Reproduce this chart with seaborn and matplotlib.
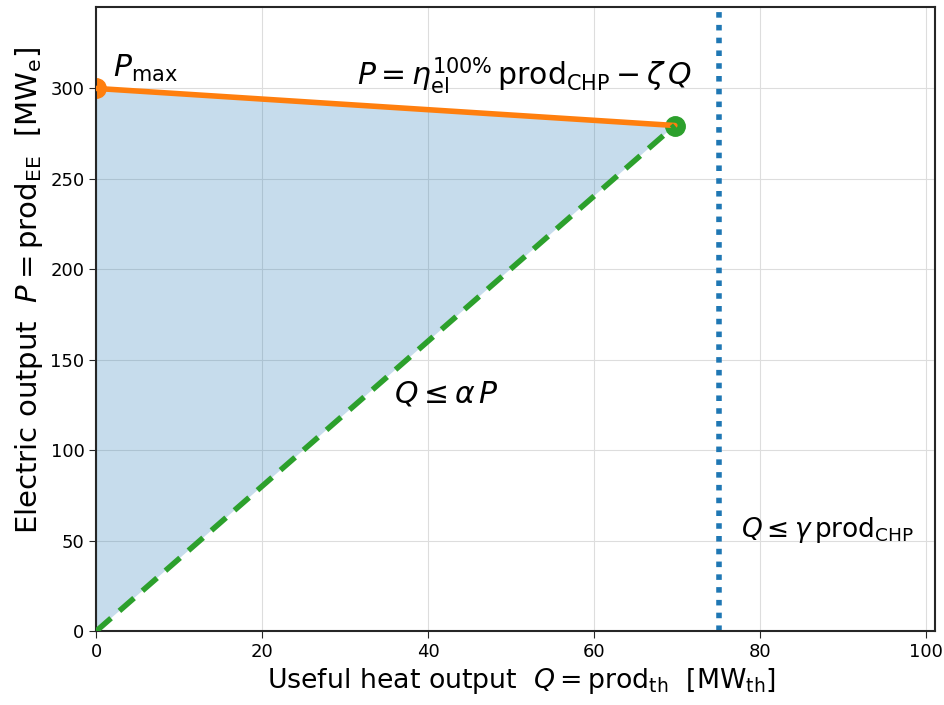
import matplotlib
matplotlib.use("Agg")
import matplotlib.pyplot as plt
import seaborn as sns
import numpy as np
import pandas as pd

# data
P_max = 300.0
gamma_Q = 75.0
Q_corner = 69.7
P_corner = 279.5

upper_Q = [0.0, Q_corner]
upper_P = [P_max, P_corner]
lower_Q = [0.0, Q_corner]
lower_P = [0.0, P_corner]
left_Q = [0.0, 0.0]
left_P = [0.0, P_max]
xticks = [0, 20, 40, 60, 80, 100]
yticks = [0, 50, 100, 150, 200, 250, 300]

sns.set_style("ticks", {"axes.grid": True, "grid.color": "#dddddd",
                        "axes.edgecolor": "#262626",
                        "text.color": "black", "axes.labelcolor": "black",
                        "xtick.color": "black", "ytick.color": "black"})
plt.rcParams['font.family'] = ['DejaVu Sans']
plt.rcParams['mathtext.fontset'] = 'dejavusans'

fig, ax = plt.subplots(figsize=(9.45, 7.05), dpi=100)

blue, orange, green = "#1f77b4", "#ff7f0e", "#2ca02c"

ax.fill([0.0, 0.0, Q_corner], [0.0, P_max, P_corner], color=blue, alpha=0.25, lw=0)
ax.plot([0.0], [P_max], 'o', color=orange, ms=14, zorder=2)
ax.plot([Q_corner], [P_corner], 'o', color=green, ms=14, zorder=2)
sns.lineplot(x=left_Q, y=left_P, ax=ax, color=blue, lw=2, zorder=3)
sns.lineplot(x=upper_Q, y=upper_P, ax=ax, color=orange, lw=4, zorder=3)
sns.lineplot(x=lower_Q, y=lower_P, ax=ax, color=green, lw=4, linestyle=(0, (3.5, 2)), zorder=3)
ax.axvline(gamma_Q, color=blue, lw=4, linestyle=(0, (1, 1.3)))

ax.text(2, 306.5, r"$P_{\mathrm{max}}$", fontsize=21.5)
ax.text(51.6, 307, r"$P = \eta_{\mathrm{el}}^{100\%}\,\mathrm{prod}_{\mathrm{CHP}} - \zeta\, Q$",
        fontsize=21.5, ha="center", va="center")
ax.text(42.2, 131, r"$Q \leq \alpha\, P$", fontsize=21.5, ha="center", va="center")
ax.text(77.7, 56, r"$Q \leq \gamma\, \mathrm{prod}_{\mathrm{CHP}}$", fontsize=19,
        ha="left", va="center")

ax.set_xlim(0, 101)
ax.set_ylim(0, 345)
ax.set_xticks(xticks)
ax.set_yticks(yticks)
ax.tick_params(labelsize=13, length=5, color="#262626")
ax.set_xlabel(r"Useful heat output  $Q = \mathrm{prod}_{\mathrm{th}}$  [MW$_{\mathrm{th}}$]",
              fontsize=19.3, x=0.507)
ax.set_ylabel(r"Electric output  $P = \mathrm{prod}_{\mathrm{EE}}$  [MW$_{\mathrm{e}}$]",
              fontsize=21, y=0.546)
for s in ax.spines.values():
    s.set_linewidth(1.5)

fig.subplots_adjust(left=0.102, right=0.989, top=0.99, bottom=0.105)
fig.savefig("out.png", dpi=100)
